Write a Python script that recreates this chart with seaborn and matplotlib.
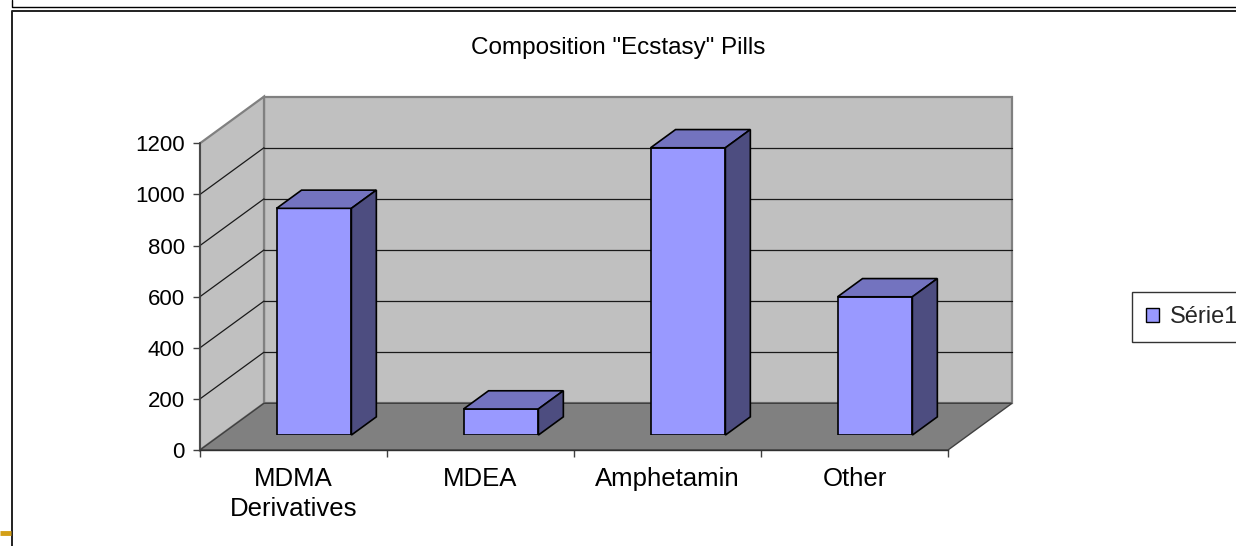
import matplotlib
matplotlib.use("Agg")
import matplotlib.pyplot as plt
from matplotlib.patches import Polygon, Rectangle
from matplotlib.lines import Line2D
from matplotlib.transforms import Affine2D, IdentityTransform
import seaborn as sns
import pandas as pd

# data
categories = ["MDMA\nDerivatives", "MDEA", "Amphetamin", "Other"]
values = [887, 102, 1124, 541]
y_ticks = [0, 200, 400, 600, 800, 1000, 1200]
series_name = "Série1"
title = 'Composition "Ecstasy" Pills'

W, H, DPI = 1236, 546, 100
DEPTH = (64, 46.7)          # pixel offset front plane -> back wall
BAR_D0, BAR_D1 = 0.32, 0.71  # bar front / back as fraction of depth

sns.set_theme(style="white")
plt.rcParams['font.family'] = ['Liberation Sans', 'DejaVu Sans']

fig = plt.figure(figsize=(W / DPI, H / DPI), dpi=DPI)
fig.patch.set_facecolor("white")


def px_box(left, top, right, bottom):
    return [left / W, 1 - bottom / H, (right - left) / W, (bottom - top) / H]


def proj(axis, x, y, d):
    px, py = axis.transData.transform((x, y))
    return px + d * DEPTH[0], py + d * DEPTH[1]


# front plane axes (value + category axes)
ax = fig.add_axes(px_box(200, 143.3, 948, 450))
ax.set_xlim(-0.5, len(categories) - 0.5)
ax.set_ylim(y_ticks[0], y_ticks[-1])
ax.patch.set_visible(False)

x0, x1 = -0.5, len(categories) - 0.5
ymax = y_ticks[-1]

# back wall
back_T = ax.transData + Affine2D().translate(*DEPTH)
ax.add_patch(Rectangle((x0, 0), x1 - x0, ymax, transform=back_T,
                       facecolor="#c0c0c0", edgecolor="#808080", lw=1.6,
                       zorder=0.5, clip_on=False))
# side wall
side = [proj(ax, x0, 0, 0), proj(ax, x0, 0, 1), proj(ax, x0, ymax, 1), proj(ax, x0, ymax, 0)]
ax.add_patch(Polygon(side, closed=True, transform=IdentityTransform(),
                     facecolor="#c0c0c0", edgecolor="#808080", lw=1.6,
                     zorder=0.5, clip_on=False))
# floor
floor = [proj(ax, x0, 0, 0), proj(ax, x1, 0, 0), proj(ax, x1, 0, 1), proj(ax, x0, 0, 1)]
ax.add_patch(Polygon(floor, closed=True, transform=IdentityTransform(),
                     facecolor="#808080", edgecolor="#404040", lw=1.0,
                     zorder=0.8, clip_on=False))
# gridlines on back and side walls
for v in y_ticks[1:-1]:
    ax.plot([x0, x1], [v, v], transform=back_T, color="#1a1a1a", lw=0.9,
            zorder=0.7, clip_on=False)
    a, b = proj(ax, x0, v, 0), proj(ax, x0, v, 1)
    ax.add_line(Line2D([a[0], b[0]], [a[1], b[1]], transform=IdentityTransform(),
                       color="#1a1a1a", lw=0.9, zorder=0.7, clip_on=False))

ax.set_yticks(y_ticks)
ax.set_xticks([i - 0.5 for i in range(len(categories) + 1)])
ax.set_xticklabels([])
ax.set_xticks(range(len(categories)), labels=categories, minor=True)
ax.tick_params(axis="y", direction="out", length=5, width=1, color="#404040",
               labelsize=16, pad=6, left=True, labelcolor="black")
ax.tick_params(axis="x", which="major", direction="out", length=5, width=1,
               color="#404040", bottom=True)
ax.tick_params(axis="x", which="minor", length=0, labelsize=18.5, pad=12,
               labelcolor="black")
for lab in ax.get_xticklabels(minor=True):
    lab.set_linespacing(1.32)
for s in ["top", "right"]:
    ax.spines[s].set_visible(False)
ax.spines["left"].set_color("#404040")
ax.spines["bottom"].set_color("#303030")
ax.spines["left"].set_linewidth(1.2)
ax.spines["bottom"].set_linewidth(1.0)

# bars: front faces drawn by seaborn on a plane pushed back into the box
dx0, dy0 = BAR_D0 * DEPTH[0], BAR_D0 * DEPTH[1]
ax_bar = fig.add_axes(px_box(200 + dx0, 143.3 - dy0, 948 + dx0, 450 - dy0))
df = pd.DataFrame({"cat": categories, "val": values})
sns.barplot(data=df, x="cat", y="val", ax=ax_bar, width=0.4, color="#9999ff",
            saturation=1, edgecolor="black", linewidth=1.2)
ax_bar.set_xlim(-0.5, len(categories) - 0.5)
ax_bar.set_ylim(y_ticks[0], y_ticks[-1])
ax_bar.set_axis_off()
ax_bar.patch.set_visible(False)

bd = BAR_D1 - BAR_D0
for p in list(ax_bar.patches):
    bx0, bw, bh = p.get_x(), p.get_width(), p.get_height()
    bx1 = bx0 + bw
    top = [proj(ax_bar, bx0, bh, 0), proj(ax_bar, bx1, bh, 0),
           proj(ax_bar, bx1, bh, bd), proj(ax_bar, bx0, bh, bd)]
    sidef = [proj(ax_bar, bx1, 0, 0), proj(ax_bar, bx1, 0, bd),
             proj(ax_bar, bx1, bh, bd), proj(ax_bar, bx1, bh, 0)]
    ax_bar.add_patch(Polygon(top, closed=True, transform=IdentityTransform(),
                             facecolor="#7373bf", edgecolor="black", lw=1.2,
                             joinstyle="miter", clip_on=False))
    ax_bar.add_patch(Polygon(sidef, closed=True, transform=IdentityTransform(),
                             facecolor="#4d4d80", edgecolor="black", lw=1.2,
                             joinstyle="miter", clip_on=False))

fig.text(618 / W, 1 - 48 / H, title, ha="center", va="center", fontsize=17.5,
         color="black")

handle = Rectangle((0, 0), 1, 1, facecolor="#9999ff", edgecolor="black", lw=1)
leg = fig.legend([handle], [series_name], loc="upper left",
                 bbox_to_anchor=(1132 / W, 1 - 292 / H), borderaxespad=0,
                 fontsize=17, frameon=True, fancybox=False, shadow=False,
                 handlelength=0.55, handleheight=0.55, handletextpad=0.45,
                 borderpad=0.6)
leg.get_frame().set_edgecolor("black")
leg.get_frame().set_linewidth(1.0)

# page frame decoration
def fig_line(xs, ys, **kw):
    fig.add_artist(Line2D([x / W for x in xs], [1 - y / H for y in ys],
                          transform=fig.transFigure, **kw))

fig_line([12, 12, W], [0, 6.5, 6.5], color="black", lw=1.0)
fig_line([W, 12, 12], [10.5, 10.5, H], color="#202020", lw=1.4)
fig_line([0, 11], [532.5, 532.5], color="#d4a017", lw=3.5, solid_capstyle="butt")

fig.savefig("out.png", dpi=DPI)
